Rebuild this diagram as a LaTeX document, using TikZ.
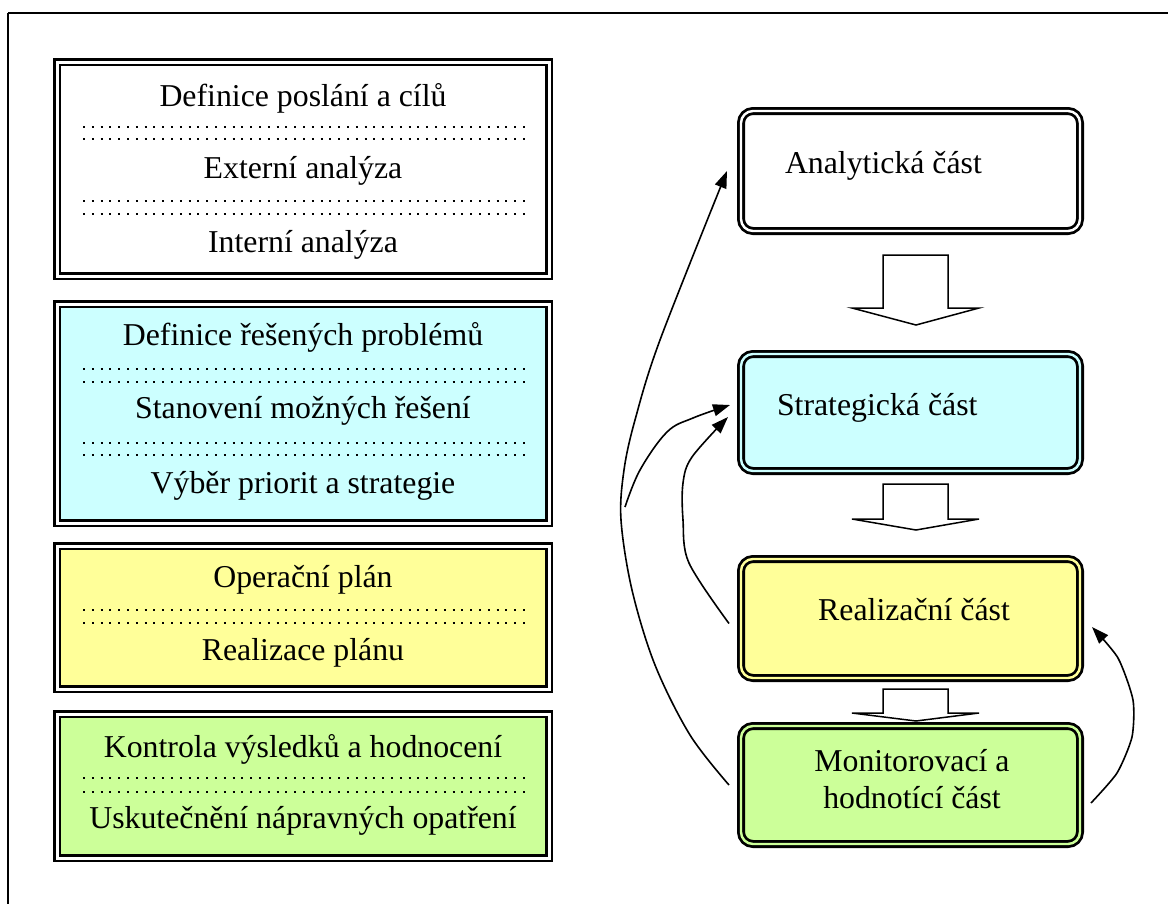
\documentclass[tikz,border=0pt]{standalone}
\usepackage{fontspec}
\setmainfont{Liberation Serif}
\usetikzlibrary{arrows.meta}
\definecolor{cyanbox}{HTML}{CCFFFF}
\definecolor{yellowbox}{HTML}{FFFF99}
\definecolor{greenbox}{HTML}{CCFF99}
\begin{document}
\begin{tikzpicture}[x=1pt,y=-1pt,
  txt/.style={font=\fontsize{31.8}{36}\selectfont, inner sep=0pt, outer sep=0pt},
  listbox/.style={draw, line width=2.5pt, double=white, double distance=3pt,
    inner sep=0pt, outer sep=0pt, minimum width=492pt},
  partbox/.style={draw, line width=2.8pt, double distance=2.4pt, rounded corners=12pt,
    inner sep=0pt, outer sep=0pt, minimum width=339pt},
  dotrow/.style={line width=2pt, dash pattern=on 2pt off 6.8pt},
  blockarrow/.style={draw, fill=white, line width=1.5pt, line join=miter},
  conn/.style={line width=1.6pt, -{Triangle[length=17pt,width=12pt]}},
]
\useasboundingbox (0,0) rectangle (1168,903);
% frame
\draw[line width=1.6pt] (8,13) -- (1190,13);
\draw[line width=1.6pt] (8,13) -- (8,920);

% ---------- list boxes on the left ----------
\node[listbox, fill=white, minimum height=214pt] (l1) at (303,169) {};
\node[listbox, fill=cyanbox, minimum height=219pt] (l2) at (303,413.5) {};
\node[listbox, fill=yellowbox, minimum height=143pt] (l3) at (303,617.5) {};
\node[listbox, fill=greenbox, minimum height=144pt] (l4) at (303,786) {};

\node[txt, anchor=base] (t11) at (303,106) {Definice poslání a cílů};
\node[txt, anchor=base] (t12) at (303,178) {Externí analýza};
\node[txt, anchor=base] (t13) at (303,252) {Interní analýza};
\foreach \y in {127,139,201,214} \draw[dotrow] (83,\y) -- (525,\y);

\node[txt, anchor=base] (t21) at (303,345) {Definice řešených problémů};
\node[txt, anchor=base] (t22) at (303,418) {Stanovení možných řešení};
\node[txt, anchor=base] (t23) at (303,493) {Výběr priorit a strategie};
\foreach \y in {369,382,443,455} \draw[dotrow] (83,\y) -- (525,\y);

\node[txt, anchor=base] (t31) at (303,587) {Operační plán};
\node[txt, anchor=base] (t32) at (303,660) {Realizace plánu};
\foreach \y in {610,623} \draw[dotrow] (83,\y) -- (525,\y);

\node[txt, anchor=base] (t41) at (303,757) {Kontrola výsledků a hodnocení};
\node[txt, anchor=base] (t42) at (303,828) {Uskutečnění nápravných opatření};
\foreach \y in {778,792} \draw[dotrow] (83,\y) -- (525,\y);

% ---------- process boxes on the right ----------
\node[partbox, fill=white, double=white, minimum height=120pt] (ana) at (910.5,171) {};
\node[partbox, fill=cyanbox, double=cyanbox, minimum height=117pt] (str) at (910.5,412.5) {};
\node[partbox, fill=yellowbox, double=yellowbox, minimum height=119pt] (rea) at (910.5,618.5) {};
\node[partbox, fill=greenbox, double=greenbox, minimum height=118pt] (mon) at (910.5,785) {};

\node[txt, anchor=base west] (anat) at (785,173) {Analytická část};
\node[txt, anchor=base west] (strt) at (777,415) {Strategická část};
\node[txt, anchor=base] (reat) at (914,620) {Realizační část};
\node[txt, anchor=base] (mont1) at (912,771) {Monitorovací a};
\node[txt, anchor=base] (mont2) at (912,808) {hodnotící část};

% block arrows between the parts
\draw[blockarrow] (883,255) -- (948,255) -- (948,308) -- (979,308) -- (916,325)
  -- (852,308) -- (883,308) -- cycle;
\draw[blockarrow] (883,484) -- (948,484) -- (948,519) -- (979,519) -- (916,530)
  -- (852,519) -- (883,519) -- cycle;
\draw[blockarrow] (883,689) -- (948,689) -- (948,713) -- (979,713) -- (916,721)
  -- (852,713) -- (883,713) -- cycle;

% feedback connectors
\coordinate (fb) at (625,507);
\draw[conn] plot[smooth, tension=0.55] coordinates {([xshift=-12pt]mon.west) (690,735) (655,665)
  (632,590) (621,520) (624,470) (635,420) (660,340) ([xshift=-14pt]ana.west)};
\draw[conn] plot[smooth, tension=0.6] coordinates {(fb) (640,470) (667,432) (693,418)
  ([xshift=-11pt,yshift=7.5pt]str.west)};
\draw[conn] plot[smooth, tension=0.55] coordinates {([xshift=-12pt,yshift=-5pt]rea.west)
  (689,563) (683,520) (683,483) (692,457) ([xshift=-13pt,yshift=-4.5pt]str.west)};
\draw[conn] plot[smooth, tension=0.4] coordinates {([xshift=11pt,yshift=-18pt]mon.east)
  (1117,773) (1132,737) (1133,700) (1118,658) ([xshift=12pt,yshift=-8.5pt]rea.east)};
\end{tikzpicture}
\end{document}
